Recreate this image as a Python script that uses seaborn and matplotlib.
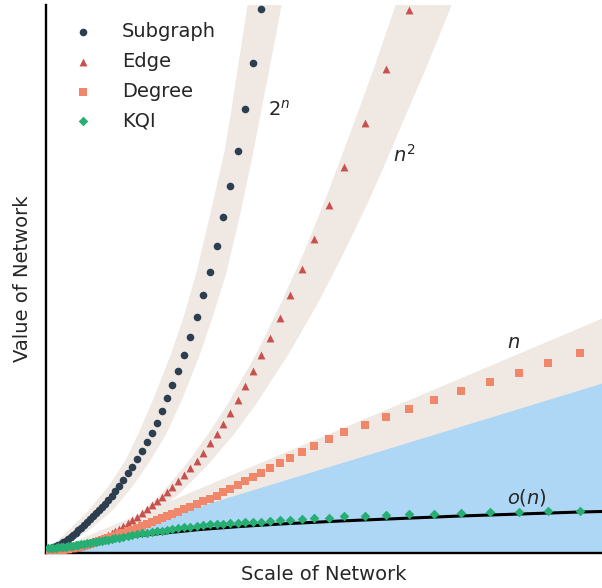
import matplotlib
matplotlib.use("Agg")
import matplotlib.pyplot as plt
import seaborn as sns

# Network scale (shared by all series)
escala = [2, 4.5, 7, 9.5, 12, 14.5, 17, 19.5, 22, 24.5,
          27, 29.5, 32, 35, 38, 41, 44, 47, 50, 53,
          56, 59, 62, 66, 69, 73, 77, 82, 86, 91,
          96, 101, 106, 111, 116, 121, 126, 132, 138, 144,
          151, 157, 164, 171, 177, 184, 192, 199, 207, 215,
          224, 234, 244, 256, 268, 283, 298, 319, 340, 363,
          388, 415, 444, 473, 502, 534]

# Value of network per method
subgraph = [4, 5, 6, 7, 8, 9.5, 11, 12.5, 14.5, 16.5,
            18.5, 20.5, 23, 25.5, 28, 31, 34, 37, 40, 43,
            46, 49, 53, 57, 62, 67, 73, 80, 86, 94,
            102, 111, 120, 130, 142, 155, 168, 182, 198, 216,
            236, 258, 281, 307, 336, 367, 402, 444, 490, 544]
edge = [2, 2.5, 2.5, 3, 3, 3.5, 3.5, 4, 4.5, 5,
        5.5, 6, 6.5, 7, 8, 9, 10, 11, 12, 13.5,
        15, 16.5, 18, 20, 22, 24, 27, 30, 33, 36,
        40, 44, 48, 52, 56, 61, 66, 72, 78, 85,
        92, 100, 110, 119, 129, 140, 153, 167, 182, 198,
        215, 235, 258, 284, 314, 348, 386, 430, 484, 543]
degree = [2, 2, 2.5, 2.5, 3, 3, 3.5, 4, 4.5, 5,
          5.5, 6, 6.5, 7, 8, 8.5, 9.5, 10, 11, 12,
          13, 14, 15, 16, 17.5, 19, 20, 22, 23, 25,
          27, 29, 31, 33, 35, 37, 39, 41, 44, 46,
          49, 52, 54, 57, 61, 64, 68, 72, 76, 80,
          85, 90, 95, 101, 107, 114, 121, 128, 136, 144,
          153, 162, 171, 180, 190, 200]
kqi = [5, 5, 5.5, 5.5, 6, 6, 6.5, 6.5, 7, 7.5,
       7.5, 8, 8.5, 9, 9.5, 10, 10.5, 11, 11.5, 12,
       12.5, 13, 13.5, 14.5, 15, 15.5, 16, 17, 18, 19,
       20, 20.5, 21.5, 22, 22.5, 23.5, 24, 25, 26, 26,
       27, 28, 29, 29, 29, 30, 30, 31, 31, 31,
       32, 33, 33, 34, 35, 35, 37, 37, 38, 39,
       39, 40, 41, 41, 42, 42]

# o(n) reference curve
on_x = [0, 9, 19, 34, 54, 79, 104, 129, 154, 194, 234, 294, 354, 414, 474, 534, 556]
on_y = [0, 3, 6, 9.5, 13, 16, 18.5, 21, 23.5, 26.5, 29, 32, 34.5, 37, 39, 41, 41.5]

# 2^n band (value levels and left/right scale edges)
b2n_y = [0, 8, 23, 43, 67, 93, 120, 155, 198, 236, 281, 336, 402, 444, 490, 548, 560]
b2n_l = [0, 6, 22, 42, 62, 79, 92, 107, 124, 137, 150, 163, 178, 185, 192, 201, 203]
b2n_r = [0, 18, 42, 66, 86, 104, 120, 136, 153, 166, 180, 193, 207, 215, 224, 235, 237]

# n^2 band
bn2_y = [0, 4, 8, 15, 25, 40, 60, 90, 120, 150, 200, 250, 300, 350, 386, 440, 484, 548, 560]
bn2_l = [0, 29.6, 42, 57.4, 74, 93.8, 115, 140.6, 162, 181.6, 210, 234.4, 257, 277.3, 291, 311, 327, 349, 352]
bn2_r = [0, 34.3, 48.5, 66.4, 86, 108.5, 133, 162.7, 188, 210, 242.5, 271.2, 297, 321, 337, 360, 379, 405, 410]

# n band and o(n) region
bn_x = [0, 556]
bn_hi = [0, 235]
azul_hi = [0, 170]

cores = {"Subgraph": "#2c3e50", "Edge": "#c8504d", "Degree": "#f0876a", "KQI": "#26ae73"}
bege = "#efe8e3"
azul = "#aed6f5"

sns.set_style("white")
plt.rcParams["font.family"] = ["DejaVu Sans"]
plt.rcParams["mathtext.fontset"] = "dejavusans"

fig = plt.figure(figsize=(6.02, 5.88), dpi=100)
ax = fig.add_axes([46 / 602, 35 / 588, 556 / 602, 548 / 588])

# bands
ax.fill_betweenx(b2n_y, b2n_l, b2n_r, color=bege, lw=0, zorder=1)
ax.fill_betweenx(bn2_y, bn2_l, bn2_r, color=bege, lw=0, zorder=1)
ax.fill_between(bn_x, 0, bn_hi, color=bege, lw=0, zorder=1)
ax.fill_between(bn_x, 0, azul_hi, color=azul, lw=0, zorder=1.5)

sns.lineplot(x=on_x, y=on_y, color="black", lw=2.2, ax=ax, zorder=2, sort=False)

sns.scatterplot(x=escala[:len(subgraph)], y=subgraph, marker="o", s=30,
                color=cores["Subgraph"], linewidth=0, label="Subgraph", ax=ax, zorder=3)
sns.scatterplot(x=escala[:len(edge)], y=edge, marker="^", s=32,
                color=cores["Edge"], linewidth=0, label="Edge", ax=ax, zorder=3)
sns.scatterplot(x=escala[:len(degree)], y=degree, marker="s", s=26,
                color=cores["Degree"], linewidth=0, label="Degree", ax=ax, zorder=3)
sns.scatterplot(x=escala[:len(kqi)], y=kqi, marker="D", s=24,
                color=cores["KQI"], linewidth=0, label="KQI", ax=ax, zorder=3)

# curve labels
ax.text(222, 443, "$2^n$", fontsize=14, va="center")
ax.text(347, 398, "$n^2$", fontsize=14, va="center")
ax.text(461, 210, "$n$", fontsize=14, va="center")
ax.text(461, 56, "$o(n)$", fontsize=14, va="center")

ax.set_xlim(0, 556)
ax.set_ylim(0, 548)
ax.set_xticks([])
ax.set_yticks([])
ax.set_xlabel("Scale of Network", fontsize=14, labelpad=9)
ax.set_ylabel("Value of Network", fontsize=14, labelpad=10)
sns.despine(ax=ax)
for lado in ["left", "bottom"]:
    ax.spines[lado].set_linewidth(1.7)
    ax.spines[lado].set_color("black")

ax.legend(loc="upper left", frameon=False, fontsize=14, handletextpad=1.0,
          labelspacing=0.55)

fig.savefig("out.png", dpi=100)
